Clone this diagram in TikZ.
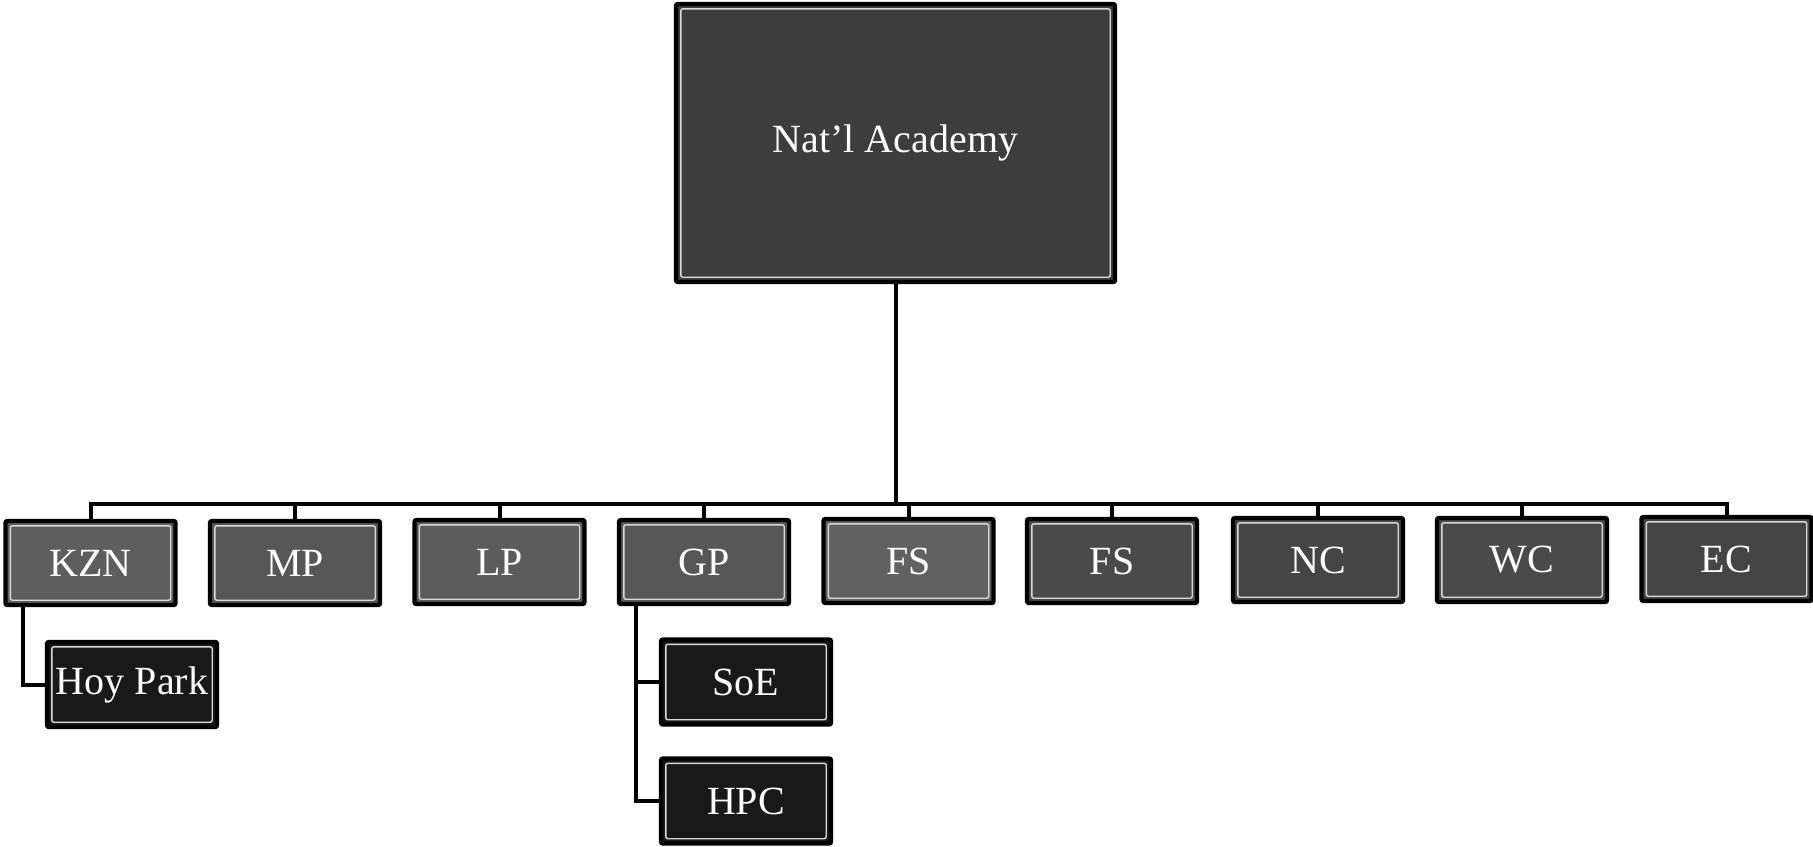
\documentclass[tikz,border=0pt]{standalone}
\usepackage{fontspec}
\setmainfont{Liberation Serif}
\begin{document}
\begin{tikzpicture}[x=0.5pt,y=-0.5pt,
  box/.style={draw=black, line width=2.2pt, inner sep=0pt, text=white,
    font=\fontsize{20}{24}\selectfont, rounded corners=1pt,
    path picture={\draw[white!70!gray, line width=0.7pt]
      ([shift={(2.4pt,2.4pt)}]path picture bounding box.south west) rectangle
      ([shift={(-2.4pt,-2.4pt)}]path picture bounding box.north east);}},
  rowbox/.style={box, minimum width=85pt, minimum height=42pt},
  leafbox/.style={box, fill=black!90, minimum width=85pt, minimum height=42.5pt},
  conn/.style={line width=2pt, line cap=rect}]
\useasboundingbox (0,0) rectangle (1813,846);
\node[box, fill=black!76, minimum width=219.5pt, minimum height=139pt] (top) at (895.5,143) {Nat’l Academy};
\node[rowbox, fill=black!63] (kzn) at (90.5,563) {KZN};
\node[rowbox, fill=black!66] (mp) at (295,563) {MP};
\node[rowbox, fill=black!64] (lp) at (499.5,562) {LP};
\node[rowbox, fill=black!66] (gp) at (704,562) {GP};
\node[rowbox, fill=black!62] (fs1) at (908.5,561) {FS};
\node[rowbox, fill=black!71] (fs2) at (1112,561) {FS};
\node[rowbox, fill=black!73] (nc) at (1318,560) {NC};
\node[rowbox, fill=black!71] (wc) at (1522,560) {WC};
\node[rowbox, fill=black!73] (ec) at (1726.5,559) {EC};
\node[leafbox] (hoy) at (132,684.5) {Hoy Park};
\node[leafbox] (soe) at (746,682) {SoE};
\node[leafbox] (hpc) at (746,801) {HPC};
\coordinate (bus) at (0,504);
\draw[conn] (top.south) -- (top.south |- bus);
\draw[conn] (kzn.north) -- (kzn.north |- bus) -- (ec.north |- bus) -- (ec.north);
\foreach \n in {mp,lp,gp,fs1,fs2,nc,wc} \draw[conn] (\n.north) -- (\n.north |- bus);
\draw[conn] ([xshift=10pt]kzn.south west) |- (hoy.west);
\draw[conn] ([xshift=9.5pt]gp.south west) |- (hpc.west);
\draw[conn] ([xshift=9.5pt]gp.south west |- soe.west) -- (soe.west);
\end{tikzpicture}
\end{document}
